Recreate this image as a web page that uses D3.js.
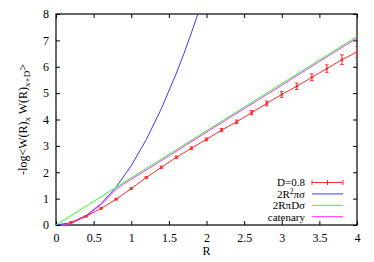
<!DOCTYPE html>
<html>
<head>
<meta charset="utf-8">
<script src="https://cdn.jsdelivr.net/npm/d3@7"></script>
<style>
  body { margin: 0; background: #fff; }
  svg text { font-family: "Liberation Serif", "Times New Roman", "DejaVu Serif", serif; fill: #000; }
</style>
</head>
<body>
<div id="chart"></div>
<script>
var dataR = [0.2, 0.4, 0.6, 0.8, 1.0, 1.2, 1.4, 1.6, 1.8, 2.0, 2.2, 2.4, 2.6, 2.8, 3.0, 3.2, 3.4, 3.6, 3.8, 4.0];
var dataV = [0.10, 0.33, 0.63, 0.98, 1.38, 1.80, 2.19, 2.57, 2.91, 3.25, 3.60, 3.91, 4.26, 4.61, 4.95, 5.26, 5.60, 5.93, 6.27, 6.56];
var dataErr = [0.01, 0.02, 0.02, 0.03, 0.03, 0.03, 0.04, 0.04, 0.05, 0.05, 0.06, 0.07, 0.08, 0.09, 0.11, 0.12, 0.13, 0.14, 0.18, 0.22];

// 2R^2 pi sigma curve
var quadR = [0, 0.2, 0.4, 0.6, 0.8, 1.0, 1.2, 1.4, 1.6, 1.7, 1.8, 1.885];
var quadV = [0, 0.09, 0.36, 0.81, 1.44, 2.25, 3.24, 4.41, 5.76, 6.50, 7.29, 8.0];

// 2R pi D sigma line
var linR = [0, 4];
var linV = [0, 7.15];

// catenary
var catR = [0.08, 0.2, 0.4, 0.6, 0.7, 0.8, 0.9, 1.0, 1.5, 2.0, 2.5, 3.0, 3.5, 4.0];
var catV = [0, 0.06, 0.33, 0.78, 1.06, 1.36, 1.56, 1.73, 2.62, 3.52, 4.41, 5.30, 6.20, 7.09];

var xTicks = [0, 0.5, 1, 1.5, 2, 2.5, 3, 3.5, 4];
var yTicks = [0, 1, 2, 3, 4, 5, 6, 7, 8];
var legendNames = ["D=0.8", "2R²πσ", "2RπDσ", "catenary"];
var colors = ["#ff2a2a", "#3a3aff", "#2aff2a", "#ff2aff"];

var width = 374, height = 262;
var margin = {left: 56, right: 17, top: 14, bottom: 37};
var serif = "'Liberation Serif', 'Times New Roman', 'DejaVu Serif', serif";

var svg = d3.select("#chart").append("svg")
    .attr("width", width)
    .attr("height", height)
    .attr("font-family", serif);

var x = d3.scaleLinear().domain([0, 4]).range([margin.left, width - margin.right]);
var y = d3.scaleLinear().domain([0, 8]).range([height - margin.bottom, margin.top]);

svg.append("clipPath").attr("id", "clip")
    .append("rect")
    .attr("x", x(0)).attr("y", y(8))
    .attr("width", x(4) - x(0)).attr("height", y(0) - y(8));

// axes with inward ticks on all four sides
var tickLen = 4;
svg.append("g")
    .attr("transform", "translate(0," + y(0) + ")")
    .call(d3.axisBottom(x).tickValues(xTicks).tickSizeInner(-tickLen).tickSizeOuter(0).tickPadding(8)
        .tickFormat(function (d) { return d; }));
svg.append("g")
    .attr("transform", "translate(0," + y(8) + ")")
    .call(d3.axisTop(x).tickValues(xTicks).tickSizeInner(-tickLen).tickSizeOuter(0).tickFormat(""));
svg.append("g")
    .attr("transform", "translate(" + x(0) + ",0)")
    .call(d3.axisLeft(y).tickValues(yTicks).tickSizeInner(-tickLen).tickSizeOuter(0).tickPadding(7));
svg.append("g")
    .attr("transform", "translate(" + x(4) + ",0)")
    .call(d3.axisRight(y).tickValues(yTicks).tickSizeInner(-tickLen).tickSizeOuter(0).tickFormat(""));

svg.selectAll("g").attr("font-family", null);
svg.selectAll(".domain").remove();
svg.selectAll(".tick line").attr("stroke", "#000");
svg.selectAll(".tick text")
    .style("font-family", serif)
    .style("font-size", "12px");

// frame
svg.append("rect")
    .attr("x", x(0)).attr("y", y(8))
    .attr("width", x(4) - x(0)).attr("height", y(0) - y(8))
    .attr("fill", "none").attr("stroke", "#000").attr("stroke-width", 1.2);

var line = d3.line()
    .x(function (d) { return x(d[0]); })
    .y(function (d) { return y(d[1]); });

var plot = svg.append("g").attr("clip-path", "url(#clip)");

function curve(rs, vs, color) {
    plot.append("path")
        .datum(d3.zip(rs, vs))
        .attr("d", line)
        .attr("fill", "none")
        .attr("stroke", color)
        .attr("stroke-width", 1);
}

curve(quadR, quadV, colors[1]);
curve(linR, linV, colors[2]);
curve(catR, catV, colors[3]);

// measured series with error bars
var pts = d3.zip(dataR, dataV, dataErr);
curve(dataR, dataV, colors[0]);
var eb = plot.append("g").attr("stroke", colors[0]).attr("stroke-width", 1).attr("fill", "none");
pts.forEach(function (p) {
    var cx = x(p[0]), lo = y(p[1] - p[2]), hi = y(p[1] + p[2]);
    eb.append("line").attr("x1", cx).attr("x2", cx).attr("y1", lo).attr("y2", hi);
    eb.append("line").attr("x1", cx - 1.8).attr("x2", cx + 1.8).attr("y1", lo).attr("y2", lo);
    eb.append("line").attr("x1", cx - 1.8).attr("x2", cx + 1.8).attr("y1", hi).attr("y2", hi);
    eb.append("rect").attr("x", cx - 1.2).attr("y", y(p[1]) - 1.2)
        .attr("width", 2.4).attr("height", 2.4).attr("fill", colors[0]).attr("stroke", "none");
});

// legend
var legend = svg.selectAll(".legend")
    .data(legendNames)
    .enter().append("g")
    .attr("transform", function (d, i) { return "translate(0," + (182.5 + i * 11.4) + ")"; });

legend.append("text")
    .attr("x", 305)
    .attr("y", 3.8)
    .attr("text-anchor", "end")
    .style("font-family", serif)
    .style("font-size", "11px")
    .each(function (d) {
        var t = d3.select(this);
        if (d === "2R²πσ") {
            t.append("tspan").text("2R");
            t.append("tspan").attr("dy", -3.5).style("font-size", "7.5px").text("2");
            t.append("tspan").attr("dy", 3.5).text("πσ");
        } else {
            t.text(d);
        }
    });

legend.append("line")
    .attr("x1", 312).attr("x2", 343)
    .attr("stroke", function (d, i) { return colors[i]; })
    .attr("stroke-width", 1);

var lg0 = legend.filter(function (d, i) { return i === 0; });
[312, 327.5, 343].forEach(function (lx) {
    lg0.append("line").attr("x1", lx).attr("x2", lx).attr("y1", -2.5).attr("y2", 2.5)
        .attr("stroke", colors[0]).attr("stroke-width", 1);
});

// axis titles
svg.append("text")
    .attr("x", (x(0) + x(4)) / 2)
    .attr("y", 255)
    .attr("text-anchor", "middle")
    .style("font-family", serif)
    .style("font-size", "12px")
    .text("R");

var yl = svg.append("text")
    .attr("transform", "translate(27," + ((y(0) + y(8)) / 2) + ") rotate(-90)")
    .attr("text-anchor", "middle")
    .style("font-family", serif)
    .style("font-size", "12px");
yl.append("tspan").text("-log<W(R)");
yl.append("tspan").attr("dy", 3).style("font-size", "9px").text("x");
yl.append("tspan").attr("dy", -3).text(" W(R)");
yl.append("tspan").attr("dy", 3).style("font-size", "9px").text("x+D");
yl.append("tspan").attr("dy", -3).text(">");
</script>
</body>
</html>
